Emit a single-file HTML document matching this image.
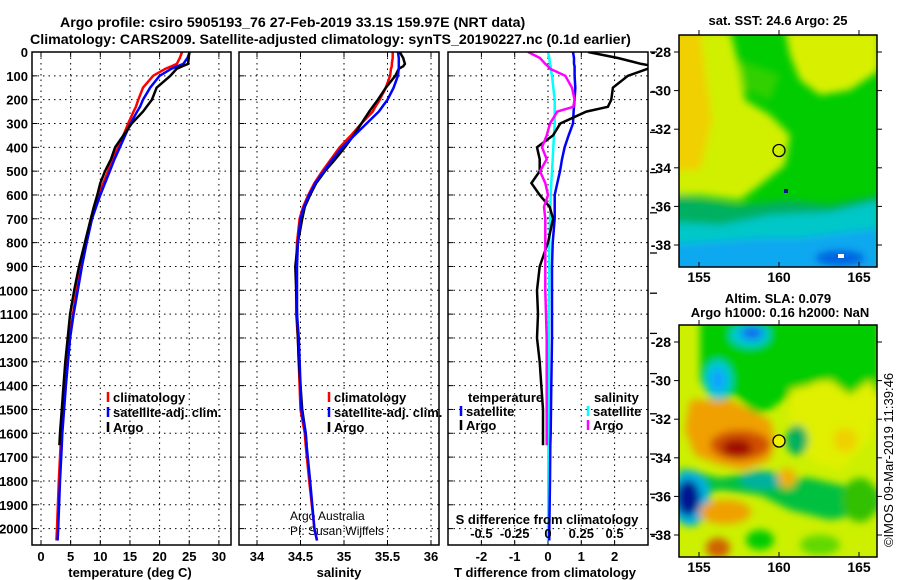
<!DOCTYPE html>
<html><head><meta charset="utf-8"><style>
body{margin:0;background:#fff;}
svg{display:block;font-family:"Liberation Sans",sans-serif;}
.b{font-weight:bold;}
</style></head><body>
<svg id="s" width="900" height="580" viewBox="0 0 900 580">
<defs>
<filter id="bl1" x="-50%" y="-50%" width="200%" height="200%"><feGaussianBlur stdDeviation="4"/></filter>
<filter id="bl2" x="-50%" y="-50%" width="200%" height="200%"><feGaussianBlur stdDeviation="4"/></filter>
<clipPath id="cm1"><rect x="679" y="35" width="198" height="232"/></clipPath>
<clipPath id="cm2"><rect x="679" y="325" width="198" height="232"/></clipPath>
<clipPath id="cp1"><rect x="32" y="52" width="199" height="493"/></clipPath>
<clipPath id="cp2"><rect x="239" y="52" width="200" height="493"/></clipPath>
<clipPath id="cp3"><rect x="448" y="52" width="200" height="493"/></clipPath>
</defs>
<text class="b" x="60" y="27" font-size="14.2">Argo profile: csiro 5905193_76 27-Feb-2019 33.1S 159.97E (NRT data)</text>
<text class="b" x="30" y="44" font-size="14.2">Climatology: CARS2009. Satellite-adjusted climatology: synTS_20190227.nc (0.1d earlier)</text>

<g>
<g clip-path="url(#cm1)">
<rect x="679" y="35" width="198" height="232" fill="#00cc00"/>
<g filter="url(#bl1)">
<path d="M670 30 L730 30 L740 70 L745 100 L770 115 L790 135 L785 165 L760 185 L740 200 L700 195 L670 195 Z" fill="#d0f000"/>
<path d="M670 30 L700 30 L705 70 L712 120 L700 170 L670 170 Z" fill="#f0d000"/>
<path d="M785 30 L880 30 L880 70 L850 90 L820 95 L800 80 L790 55 Z" fill="#d8f000"/>
<path d="M740 60 L780 75 L770 100 L745 90 Z" fill="#30d000"/>
<path d="M670 195 L740 205 L790 200 L830 205 L880 195 L880 280 L670 280 Z" fill="#00b060"/>
<path d="M670 222 L720 225 L770 215 L830 212 L880 200 L880 280 L670 280 Z" fill="#00c8c8"/>
<path d="M670 245 L760 238 L800 238 L880 228 L880 280 L670 280 Z" fill="#10a8f0"/>
<ellipse cx="840" cy="258" rx="25" ry="8" fill="#0060e0"/>
</g>
<rect x="784" y="189" width="4" height="4" fill="#001090"/>
<rect x="838" y="254" width="6" height="4" fill="#fff"/>
</g>
<rect x="679" y="35" width="198" height="232" fill="none" stroke="#000" stroke-width="1.5"/>
<circle cx="779" cy="150.5" r="6" fill="none" stroke="#000" stroke-width="1.3"/>
</g>

<g>
<g clip-path="url(#cm2)">
<rect x="679" y="325" width="198" height="232" fill="#ccf000"/>
<g filter="url(#bl2)">
<path d="M700 320 L880 320 L880 395 L850 400 L820 380 L790 395 L770 410 L755 415 L735 395 L715 405 L700 380 Z" fill="#00cc00"/>
<path d="M790 390 L830 380 L850 395 L870 380 L880 400 L870 440 L840 470 L810 460 L790 430 Z" fill="#e0f000"/>
<ellipse cx="750" cy="335" rx="20" ry="12" fill="#00c8d8"/>
<ellipse cx="752" cy="333" rx="11" ry="7" fill="#1070f0"/>
<ellipse cx="718" cy="380" rx="14" ry="20" fill="#00c8d8"/>
<ellipse cx="718" cy="380" rx="7" ry="11" fill="#10a0ff"/>
<path d="M690 400 L730 400 L770 420 L775 440 L770 460 L745 470 L720 465 L695 455 L685 430 Z" fill="#f0a000"/>
<ellipse cx="740" cy="445" rx="30" ry="15" fill="#d05000"/>
<ellipse cx="737" cy="448" rx="15" ry="9" fill="#a01000"/>
<ellipse cx="797" cy="440" rx="11" ry="15" fill="#00b060"/>
<path d="M679 468 L720 478 L760 470 L790 478 L810 478 L840 485 L880 490 L880 510 L830 520 L790 510 L760 495 L720 490 L679 500 Z" fill="#00c040"/>
<ellipse cx="762" cy="480" rx="22" ry="9" fill="#00b0a0"/>
<ellipse cx="690" cy="498" rx="20" ry="28" fill="#00b0e0"/>
<ellipse cx="688" cy="498" rx="12" ry="18" fill="#001890"/>
<ellipse cx="787" cy="478" rx="9" ry="10" fill="#f0b000"/>
<ellipse cx="725" cy="512" rx="26" ry="12" fill="#f0a000"/>
<ellipse cx="718" cy="548" rx="12" ry="10" fill="#d06000"/>
<ellipse cx="760" cy="540" rx="14" ry="10" fill="#00cc00"/>
<ellipse cx="860" cy="500" rx="18" ry="22" fill="#30c000"/>
<ellipse cx="845" cy="440" rx="12" ry="12" fill="#f0d000"/>
<ellipse cx="820" cy="545" rx="20" ry="10" fill="#60d800"/>
</g>
</g>
<rect x="679" y="325" width="198" height="232" fill="none" stroke="#000" stroke-width="1.5"/>
<circle cx="779" cy="441" r="6" fill="#f0f000" stroke="#000" stroke-width="1.3"/>
</g>

<text class="b" x="778" y="25" font-size="13" text-anchor="middle">sat. SST: 24.6 Argo: 25</text>
<text class="b" x="778" y="303" font-size="13" text-anchor="middle">Altim. SLA: 0.079</text>
<text class="b" x="780" y="317" font-size="13" text-anchor="middle">Argo h1000: 0.16 h2000: NaN</text>
<text x="893" y="460" font-size="13" text-anchor="middle" transform="rotate(-90 893 460)">©IMOS 09-Mar-2019 11:39:46</text>
<text x="290" y="520" font-size="12">Argo Australia</text>
<text x="290" y="535" font-size="12">PI: Susan Wijffels</text>
<g id="dyn"></g>
</svg>
<script>
const depths=[0,25,50,60,70,100,150,200,230,250,300,350,400,450,500,550,600,650,700,800,900,1000,1100,1200,1400,1500,1600,1650,1800,2000,2050];
const tempClim=[23.8,23.4,22.9,22.0,21.0,18.9,17.2,16.4,16.0,15.6,14.7,13.9,13.0,12.1,11.3,10.5,9.7,9.0,8.4,7.5,6.8,6.0,5.4,4.8,4.1,3.7,3.4,3.3,3.0,2.7,2.6];
const tempSat=[25.1,24.7,24.0,23.0,22.0,20.0,18.4,17.2,16.7,16.2,15.1,14.2,13.3,12.4,11.6,10.8,10.0,9.3,8.6,7.7,6.9,6.2,5.5,4.9,4.2,3.9,3.6,3.5,3.2,2.9,2.8];
const argoDepths=[0,25,50,60,70,100,150,200,230,250,300,350,400,450,500,550,600,650,700,800,900,1000,1100,1200,1300,1400,1500,1600,1650];
const tempArgo=[25.0,24.9,24.8,23.8,22.9,21.8,19.5,18.7,17.8,17.2,15.3,13.9,12.5,11.8,10.8,10.0,9.5,8.9,8.4,7.4,6.4,5.6,4.9,4.5,4.1,3.8,3.5,3.2,3.1];
const salClim=[35.56,35.56,35.55,35.55,35.54,35.53,35.48,35.41,35.36,35.33,35.20,35.08,34.95,34.85,34.75,34.66,34.59,34.53,34.49,34.46,34.45,34.45,34.45,34.47,34.49,34.50,34.55,34.56,34.60,34.66,34.69];
const salSat=[35.62,35.63,35.63,35.63,35.63,35.62,35.57,35.50,35.44,35.40,35.26,35.12,34.98,34.87,34.77,34.67,34.60,34.54,34.50,34.47,34.46,34.46,34.46,34.48,34.50,34.51,34.56,34.57,34.61,34.66,34.69];
const salArgo=[35.64,35.68,35.70,35.68,35.63,35.59,35.48,35.39,35.33,35.29,35.20,35.11,35.01,34.90,34.78,34.68,34.61,34.55,34.52,34.47,34.44,34.45,34.46,34.47,34.48,34.50,34.52,34.56,34.57];
const dTSat=[0.75,0.78,0.78,0.8,0.8,0.8,0.82,0.8,0.78,0.77,0.75,0.62,0.5,0.42,0.36,0.28,0.2,0.2,0.2,0.14,0.12,0.12,0.12,0.12,0.1,0.09,0.08,0.07,0.06,0.04,0.04];
const dSSat=[0,0.01,0.015,0.02,0.02,0.03,0.04,0.05,0.05,0.05,0.05,0.045,0.04,0.035,0.03,0.025,0.02,0.018,0.015,0.01,0.01,0.008,0.007,0.006,0.005,0.004,0.003,0.003,0.002,0.001,0];
const dTArgo=[1.2,2.1,2.8,3.2,3.0,2.4,1.95,1.9,1.8,1.15,0.37,0.15,-0.33,-0.25,-0.25,-0.5,-0.25,0.05,0.15,0,-0.25,-0.33,-0.3,-0.33,-0.25,-0.2,-0.15,-0.15,-0.15];
const dSArgo=[-0.15,-0.06,-0.02,0.0,0.015,0.13,0.18,0.2,0.19,0.07,0.015,-0.01,-0.045,-0.01,-0.06,-0.02,0,-0.03,-0.02,-0.02,-0.02,-0.02,-0.015,-0.01,-0.01,-0.01,-0.01,-0.01,-0.01];
const depthTicks=[0,100,200,300,400,500,600,700,800,900,1000,1100,1200,1300,1400,1500,1600,1700,1800,1900,2000];
const tempTicks=[0,5,10,15,20,25,30];
const salTicks=[34,34.5,35,35.5,36];
const dTTicks=[-2,-1,0,1,2];
const dSTicks=[-0.5,-0.25,0,0.25,0.5];
const dSTickLabels=["-0.5","-0.25","0","0.25","0.5"];
const lonTicks=[155,160,165];
const latTicks=[-28,-30,-32,-34,-36,-38];

const NS='http://www.w3.org/2000/svg';
const g=document.getElementById('dyn');
const yD=d=>52+d*0.2383;
const xT=t=>41+t*5.93;
const xS=s=>257+(s-34)*87;
const xDT=t=>548+t*33.3;
const xDS=s=>548+s*133.2;
const xLon=l=>699+(l-155)*16;
const yLat1=a=>52+(-28-a)*19.3;
const yLat2=a=>342+(-28-a)*19.3;
function mk(tag,attrs,parent){const e=document.createElementNS(NS,tag);for(const k in attrs)e.setAttribute(k,attrs[k]);(parent||g).appendChild(e);return e;}
function txt(x,y,s,anchor,size,bold){const e=mk('text',{x:x,y:y,'font-size':size||13,'text-anchor':anchor||'middle'});if(bold!==false)e.setAttribute('font-weight','bold');e.textContent=s;return e;}

const panels=[{x0:32,x1:231,clip:'cp1',name:'temperature'},{x0:239,x1:439,clip:'cp2',name:'salinity'},{x0:448,x1:648,clip:'cp3',name:'difference'}];
depthTicks.forEach(d=>{const t=txt(28,yD(d)+5,String(d),'end',13);

});
function grid(p,xs){
 depthTicks.forEach(d=>{const l=mk('line',{x1:p.x0,x2:p.x1,y1:yD(d),y2:yD(d),stroke:'#000','stroke-dasharray':'1.5,4'});
 
 
 mk('line',{x1:p.x0,x2:p.x0+5,y1:yD(d),y2:yD(d),stroke:'#000'});});
 xs.forEach(x=>{const l=mk('line',{x1:x,x2:x,y1:52,y2:545,stroke:'#000','stroke-dasharray':'1.5,4'});
 
 
 mk('line',{x1:x,x2:x,y1:52,y2:57,stroke:'#000'});mk('line',{x1:x,x2:x,y1:540,y2:545,stroke:'#000'});});
}
grid(panels[0],tempTicks.map(xT));
grid(panels[1],salTicks.map(xS));
grid(panels[2],dTTicks.map(xDT));
function line(xs,ds,color,clip,name,w){
 const pts=xs.map((v,i)=>v.toFixed(1)+','+yD(ds[i]).toFixed(1)).join(' ');
 const e=mk('polyline',{points:pts,fill:'none',stroke:color,'stroke-width':w||2.5,'clip-path':'url(#'+clip+')'});
 
 
}
line(tempClim.map(xT),depths,'#f00','cp1','temp-climatology-line');
line(tempSat.map(xT),depths,'#00f','cp1','temp-satellite-line');
line(tempArgo.map(xT),argoDepths,'#000','cp1','temp-argo-line');
line(salClim.map(xS),depths,'#f00','cp2','sal-climatology-line');
line(salArgo.map(xS),argoDepths,'#000','cp2','sal-argo-line');
line(salSat.map(xS),depths,'#00f','cp2','sal-satellite-line');
line(dSSat.map(xDS),depths,'#0ff','cp3','sdiff-satellite-line');
line(dTSat.map(xDT),depths,'#00f','cp3','tdiff-satellite-line');
line(dTArgo.map(xDT),argoDepths,'#000','cp3','tdiff-argo-line');
line(dSArgo.map(xDS),argoDepths,'#f0f','cp3','sdiff-argo-line');
panels.forEach(p=>{const r=mk('rect',{x:p.x0,y:52,width:p.x1-p.x0,height:493,fill:'none',stroke:'#000','stroke-width':1.5});

});
for(let i=0;i<13;i++){mk('line',{x1:650,x2:657,y1:52+i*40.2,y2:52+i*40.2,stroke:'#000','stroke-width':1.3});}
tempTicks.forEach(t=>{const e=txt(xT(t),561,String(t));});
salTicks.forEach(t=>{const e=txt(xS(t),561,String(t));});
dTTicks.forEach(t=>{const e=txt(xDT(t),561,String(t));});
dSTicks.forEach((t,i)=>{const e=txt(xDS(t),538,dSTickLabels[i]);});
let e;
e=txt(130,577,'temperature (deg C)');
e=txt(339,577,'salinity');
e=txt(545,577,'T difference from climatology');
e=txt(547,524,'S difference from climatology');
function leg(x,y,color,label,name){mk('line',{x1:x,x2:x,y1:y-10,y2:y,stroke:color,'stroke-width':2.5});
 const t=txt(x+5,y,label,'start',13);}
leg(108,402,'#f00','climatology','legend-temp-climatology');
leg(108,417,'#00f','satellite-adj. clim.','legend-temp-satellite');
leg(108,432,'#000','Argo','legend-temp-argo');
leg(329,402,'#f00','climatology','legend-sal-climatology');
leg(329,417,'#00f','satellite-adj. clim.','legend-sal-satellite');
leg(329,432,'#000','Argo','legend-sal-argo');
e=txt(468,402,'temperature','start',13);
leg(461,416,'#00f','satellite','legend-tdiff-satellite');
leg(461,430,'#000','Argo','legend-tdiff-argo');
e=txt(594,402,'salinity','start',13);
leg(588,416,'#0ff','satellite','legend-sdiff-satellite');
leg(588,430,'#f0f','Argo','legend-sdiff-argo');
[[267,yLat1,35],[557,yLat2,325]].forEach(([bot,yl,top])=>{
 lonTicks.forEach(l=>{const x=xLon(l);mk('line',{x1:x,x2:x,y1:bot,y2:bot-5,stroke:'#000'});mk('line',{x1:x,x2:x,y1:top,y2:top-5,stroke:'#000'});
  const t=txt(x,bot+15,String(l),'middle',14);});
 latTicks.forEach(a=>{const y=yl(a);mk('line',{x1:679,x2:674,y1:y,y2:y,stroke:'#000'});mk('line',{x1:877,x2:882,y1:y,y2:y,stroke:'#000'});
  const t=txt(671,y+5,String(a),'end',14);});
});
</script>
</body></html>
